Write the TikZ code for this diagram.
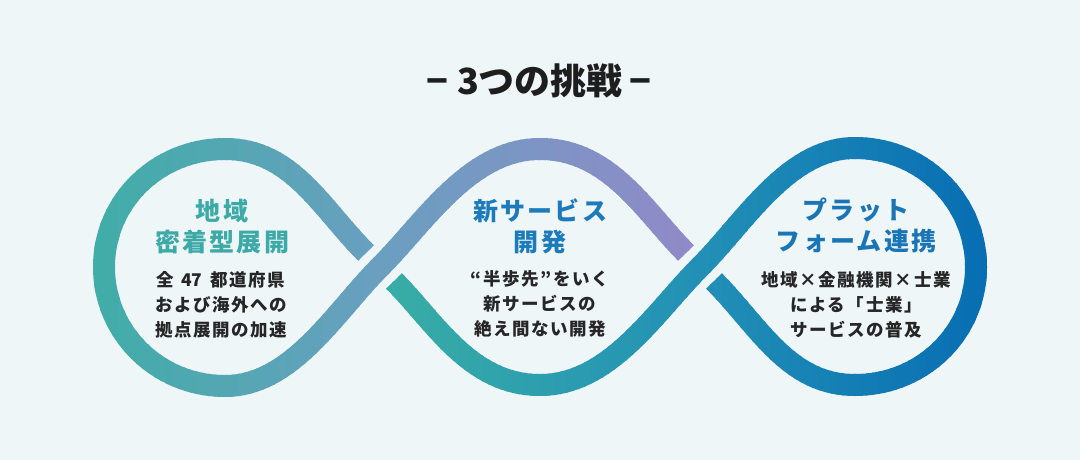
\documentclass[tikz,border=0pt]{standalone}
\usepackage{fontspec}
\newfontfamily\jp{Noto Sans CJK JP}
\newfontfamily\jpls{Noto Sans CJK JP}[LetterSpace=9]
\definecolor{bg}{HTML}{EFF6F8}
\definecolor{titlec}{HTML}{1E1E1E}
\definecolor{bodyc}{HTML}{262626}
\definecolor{headA}{HTML}{3DAAA8}
\definecolor{headB}{HTML}{1C7BBB}
\definecolor{headC}{HTML}{1A75B6}
% piece A ramp
\definecolor{Aa}{HTML}{40ADA8}
\definecolor{Ab}{HTML}{6A9FC0}
\definecolor{Ac}{HTML}{9189C8}
% piece B ramp
\definecolor{Ba}{HTML}{38ADA6}
\definecolor{Bb}{HTML}{2290B6}
\definecolor{Bc}{HTML}{076DB3}
\def\loopA{(366,253) .. controls (321,208) and (292,149) .. (225,149)
  .. controls (158,149) and (104,201) .. (104,267)
  .. controls (104,333) and (158,386) .. (225,386)
  .. controls (292,386) and (335,312) .. (380,267)
  .. controls (425,222) and (470,149) .. (540,149)
  .. controls (610,149) and (645,212) .. (686,253)}
\tikzset{
  band/.style={line width=22, line cap=butt, line join=round},
  headtext/.style={font=\jpls\bfseries\fontsize{25}{31}\selectfont, align=center, inner sep=0pt},
  bodytext/.style={font=\jpls\bfseries\fontsize{17.5}{25}\selectfont, align=center, text=bodyc, inner sep=0pt},
}
\begin{document}
\begin{tikzpicture}[x=1pt,y=-1pt]
\useasboundingbox[fill=bg] (0,0) rectangle (1080,460);
% piece A: left lobe and upper middle arc
\foreach \i in {0,...,102}{
  \pgfmathsetmacro\xa{88+\i*6}
  \pgfmathsetmacro\xb{\xa+7.5}
  \pgfmathsetmacro\pa{max(0,min(100,(\xa+3-93)/287*100))}
  \pgfmathsetmacro\pb{max(0,min(100,(\xa+3-380)/320*100))}
  \colorlet{tmpc}{Ab!\pa!Aa}
  \colorlet{curc}{Ac!\pb!tmpc}
  \begin{scope}
    \clip (\xa,100) rectangle (\xb,420);
    \draw[band, draw=curc] \loopA;
  \end{scope}
}
% piece B: lower middle arc and right lobe
\foreach \i in {0,...,103}{
  \pgfmathsetmacro\xa{380+\i*6}
  \pgfmathsetmacro\xb{\xa+7.5}
  \pgfmathsetmacro\pa{max(0,min(100,(\xa+3-390)/310*100))}
  \pgfmathsetmacro\pb{max(0,min(100,(\xa+3-700)/290*100))}
  \colorlet{tmpc}{Bb!\pa!Ba}
  \colorlet{curc}{Bc!\pb!tmpc}
  \begin{scope}
    \clip (\xa,100) rectangle (\xb,420);
    \draw[band, draw=curc, rotate around={180:(540,267)}] \loopA;
  \end{scope}
}
% title
\node[font=\jp\bfseries\fontsize{36}{42}\selectfont, text=titlec, inner sep=0pt] (title) at (539,81) {−\hspace{9pt}3つの挑戦\hspace{7pt}−};
% left
\node[headtext, text=headA] (headL) at (222,227) {地域\\密着型展開};
\node[bodytext] (bodyL) at (221,305) {全\hspace{7pt}{\jp\bfseries 47}\hspace{8pt}都道府県\\および海外への\\拠点展開の加速};
% middle
\node[headtext, text=headB] (headM) at (540,226) {新サービス\\開発};
\node[bodytext] (bodyM) at (540,304) {“半歩先”をいく\\新サービスの\\絶え間ない開発};
% right
\node[headtext, text=headC] (headR) at (856,225) {プラット\\フォーム連携};
\node[bodytext] (bodyR) at (856,305) {地域×金融機関×士業\\による「士業」\\サービスの普及};
\end{tikzpicture}
\end{document}
